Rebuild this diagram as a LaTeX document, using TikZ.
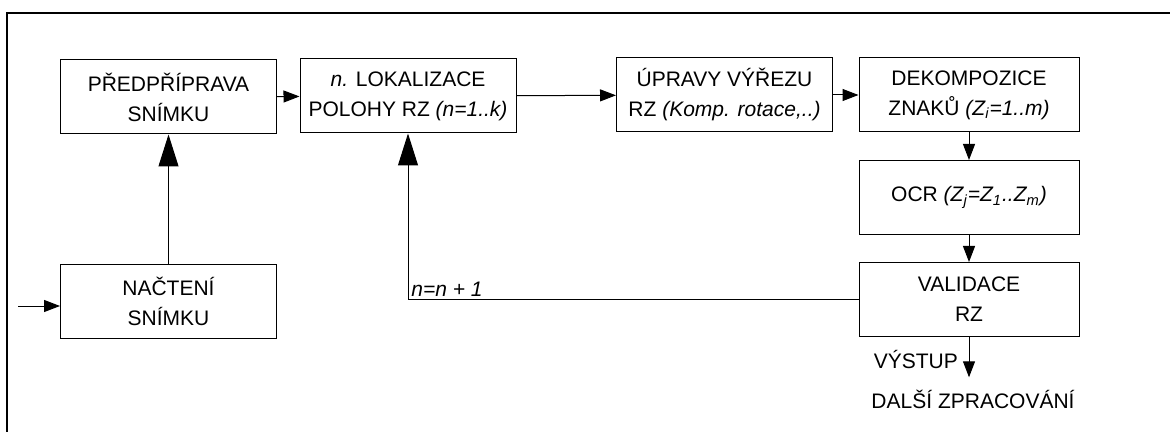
\documentclass[tikz,border=0pt]{standalone}
\usepackage{fontspec}
\setmainfont{Liberation Sans}
\usetikzlibrary{arrows.meta}

\newcommand{\pismo}{\fontsize{10.5}{15}\selectfont}

\begin{document}
\begin{tikzpicture}[x=0.5pt,y=-0.5pt,
 box/.style={draw,line width=0.5pt,minimum width=108pt,minimum height=37pt,align=center,font=\pismo},
 wbox/.style={box,minimum width=110pt},
 sip/.style={-{Triangle[length=8pt,width=6pt]},line width=0.5pt},
 velka/.style={-{Triangle[length=16pt,width=10pt]},line width=0.5pt}]
 \useasboundingbox (0,0) rectangle (1170,432);
 % ramecek
 \draw[line width=1.3pt] (7,432) -- (7,13) -- (1170,13);
 % bloky
 \node[box] (predpriprava) at (168.5,97) {PŘEDPŘÍPRAVA\\SNÍMKU};
 \node[box] (lokalizace) at (408,96) {\textit{n.} LOKALIZACE\\POLOHY RZ \textit{(n=1..k)}};
 \node[box] (upravy) at (724.5,95) {ÚPRAVY VÝŘEZU\\RZ \textit{(Komp. rotace,..)}};
 \node[wbox] (dekompozice) at (969,95) {DEKOMPOZICE\\ZNAKŮ \textit{(Z\textsubscript{i}=1..m)}};
 \node[wbox] (ocr) at (969,197.5) {OCR \textit{(Z\textsubscript{j}=Z\textsubscript{1}..Z\textsubscript{m})}};
 \node[wbox] (validace) at (969,299.5) {VALIDACE\\RZ};
 \node[box] (nacteni) at (168.5,301.5) {NAČTENÍ\\SNÍMKU};
 \node[font=\pismo,inner sep=0pt] (dalsi) at (973,399) {DALŠÍ ZPRACOVÁNÍ};
 \coordinate (vstup) at (18,306);
 % spoje
 \draw[sip] (vstup) -- (vstup -| nacteni.west);
 \draw[velka] (nacteni) -- (predpriprava);
 \draw[sip] (predpriprava) -- (lokalizace);
 \draw[sip] (lokalizace) -- (upravy);
 \draw[sip] (upravy) -- (dekompozice);
 \draw[sip] (dekompozice) -- (ocr);
 \draw[sip] (ocr) -- (validace);
 \draw[sip] (validace) -- ([yshift=6pt]validace.south |- dalsi.north)
  node[pos=0.55,left=2pt,font=\pismo] (vystup) {VÝSTUP};
 \coordinate (roh) at (lokalizace.south |- validace.west);
 \draw[velka] (validace.west) -- (roh) -- (lokalizace.south);
 \node[font=\pismo\itshape,anchor=south west,inner sep=1.5pt] (krok) at (roh) {n=n + 1};
\end{tikzpicture}
\end{document}
